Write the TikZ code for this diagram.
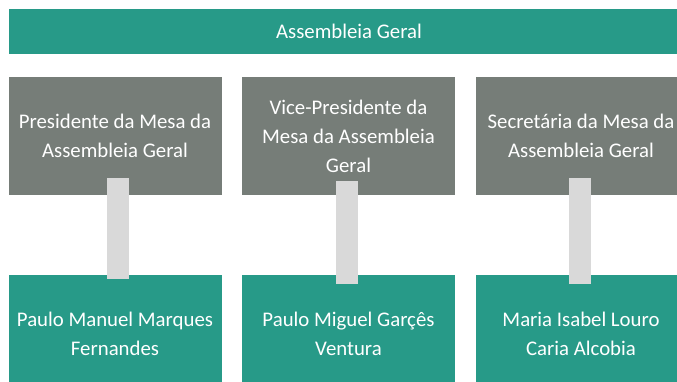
\documentclass[tikz,border=0pt]{standalone}
\usepackage{fontspec}
\setmainfont{Carlito}
\definecolor{boxteal}{HTML}{279A88}
\definecolor{boxgray}{HTML}{767D78}
\definecolor{linkgray}{HTML}{D9D9D9}
\tikzset{
  orgbox/.style={rectangle, inner sep=0pt, outer sep=0pt, text=white, align=center,
    font=\fontsize{20.8}{29}\selectfont, minimum width=213pt, minimum height=118pt},
  rolebox/.style={orgbox, fill=boxgray},
  namebox/.style={orgbox, fill=boxteal},
  link/.style={fill=linkgray}
}
\begin{document}
\begin{tikzpicture}[x=1pt, y=-1pt]
\useasboundingbox (0,0) rectangle (677,381);
    \node[orgbox, fill=boxteal, minimum width=680pt, minimum height=45pt] (ag) at (349, 31.5) {Assembleia Geral};
    \node[rolebox] (pres) at (115, 136) {Presidente da Mesa da\\Assembleia Geral};
    \node[rolebox] (vice) at (348.5, 136) {Vice-Presidente da\\Mesa da Assembleia\\Geral};
    \node[rolebox, minimum width=210pt] (secr) at (581, 136) {Secretária da Mesa da\\Assembleia Geral};
    \node[namebox] (pmmf) at (115, 334) {Paulo Manuel Marques\\Fernandes};
    \node[namebox] (pmgv) at (348.5, 334) {Paulo Miguel Garçês\\Ventura};
    \node[namebox, minimum width=210pt] (mila) at (581, 334) {Maria Isabel Louro\\Caria Alcobia};
    \foreach \from/\to/\dx/\up/\dn in {pres/pmmf/3/17/-4, vice/pmgv/-1.5/14/-9, secr/mila/-1/17/-9}
        \fill[link] ([xshift=\dx pt-11pt, yshift=\up pt]\from.south) rectangle ([xshift=\dx pt+11pt, yshift=\dn pt]\to.north);
\end{tikzpicture}
\end{document}
